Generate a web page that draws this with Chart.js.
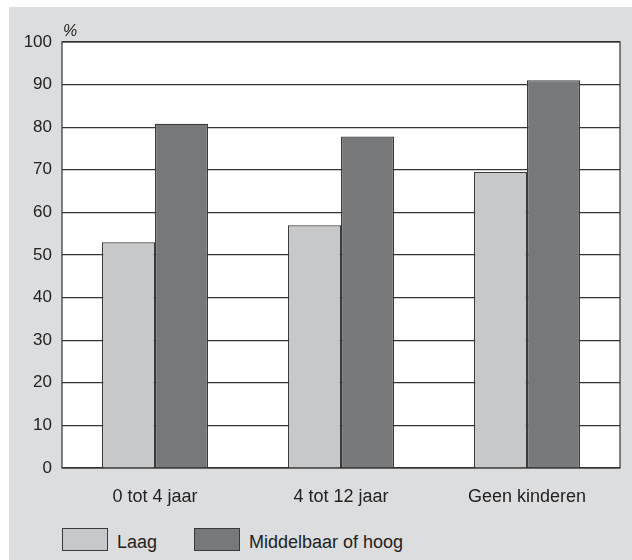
<!DOCTYPE html>
<html>
<head>
<meta charset="utf-8">
<script src="https://cdn.jsdelivr.net/npm/chart.js@4/dist/chart.umd.min.js"></script>
<style>
  html, body { margin: 0; padding: 0; background: #ffffff; }
  body { width: 632px; height: 560px; position: relative; overflow: hidden; font-family: Arial, "Liberation Sans", sans-serif; }
  #panel { position: absolute; left: 9px; top: 7px; width: 623px; height: 553px; background: #dcdddf; }
  #wrap { position: absolute; left: 0; top: 0; width: 623px; height: 510px; }
  .legend { position: absolute; top: 521px; height: 23px; font-size: 18px; color: #222; }
  .legend .box { position: absolute; left: 0; top: 0; width: 44px; height: 21px; border: 1px solid #3a3a3a; }
  .legend .txt { position: absolute; left: 55px; top: 5px; white-space: nowrap; line-height: 18px; }
</style>
</head>
<body>
<div id="panel">
  <div id="wrap"><canvas id="chart" width="623" height="510"></canvas></div>
  <div class="legend" style="left:53px"><span class="box" style="background:#c7c8ca"></span><span class="txt">Laag</span></div>
  <div class="legend" style="left:185px"><span class="box" style="background:#77787a"></span><span class="txt">Middelbaar of hoog</span></div>
</div>
<script>
// categorieën en waarden
const categories = ['0 tot 4 jaar', '4 tot 12 jaar', 'Geen kinderen'];
const laag = [53, 57, 69.5];
const middelbaarHoog = [80.8, 77.8, 91];
const yTicks = [0, 10, 20, 30, 40, 50, 60, 70, 80, 90, 100];

const plotFrame = {
  id: 'plotFrame',
  beforeDraw(chart) {
    const { ctx, chartArea: a } = chart;
    ctx.save();
    ctx.fillStyle = '#ffffff';
    ctx.fillRect(a.left, a.top, a.right - a.left, a.bottom - a.top);
    ctx.restore();
  },
  beforeDatasetsDraw(chart) {
    const { ctx, chartArea: a } = chart;
    ctx.save();
    ctx.strokeStyle = '#333333';
    ctx.lineWidth = 1.2;
    ctx.strokeRect(a.left, a.top, a.right - a.left, a.bottom - a.top);
    ctx.restore();
  },
  afterDraw(chart) {
    const { ctx, chartArea: a } = chart;
    ctx.save();
    ctx.fillStyle = '#222';
    ctx.font = 'italic 16px Arial, "Liberation Sans", sans-serif';
    ctx.textBaseline = 'alphabetic';
    ctx.fillText('%', a.left + 1, a.top - 6);
    ctx.restore();
  }
};

new Chart(document.getElementById('chart'), {
  type: 'bar',
  data: {
    labels: categories,
    datasets: [
      { label: 'Laag', data: laag, backgroundColor: '#c7c8ca', borderColor: '#3a3a3a', borderWidth: 1.2 },
      { label: 'Middelbaar of hoog', data: middelbaarHoog, backgroundColor: '#77787a', borderColor: '#3a3a3a', borderWidth: 1.2 }
    ]
  },
  options: {
    responsive: false,
    animation: false,
    layout: { padding: { left: 0, right: 12, top: 35, bottom: 0 } },
    datasets: { bar: { barPercentage: 1, categoryPercentage: 0.57 } },
    plugins: { legend: { display: false }, tooltip: { enabled: false } },
    scales: {
      x: {
        grid: { display: false },
        border: { display: false },
        ticks: { color: '#222', font: { size: 18, family: 'Arial, "Liberation Sans", sans-serif' }, padding: 10 },
        afterFit(s) { s.height = 49; }
      },
      y: {
        min: 0,
        max: 100,
        afterBuildTicks(s) { s.ticks = yTicks.map(v => ({ value: v })); },
        grid: { color: '#333333', lineWidth: 1.2, drawTicks: false },
        border: { display: false },
        ticks: { color: '#222', font: { size: 17, family: 'Arial, "Liberation Sans", sans-serif' }, padding: 10 },
        afterFit(s) { s.width = 53; }
      }
    }
  },
  plugins: [plotFrame]
});
</script>
</body>
</html>
